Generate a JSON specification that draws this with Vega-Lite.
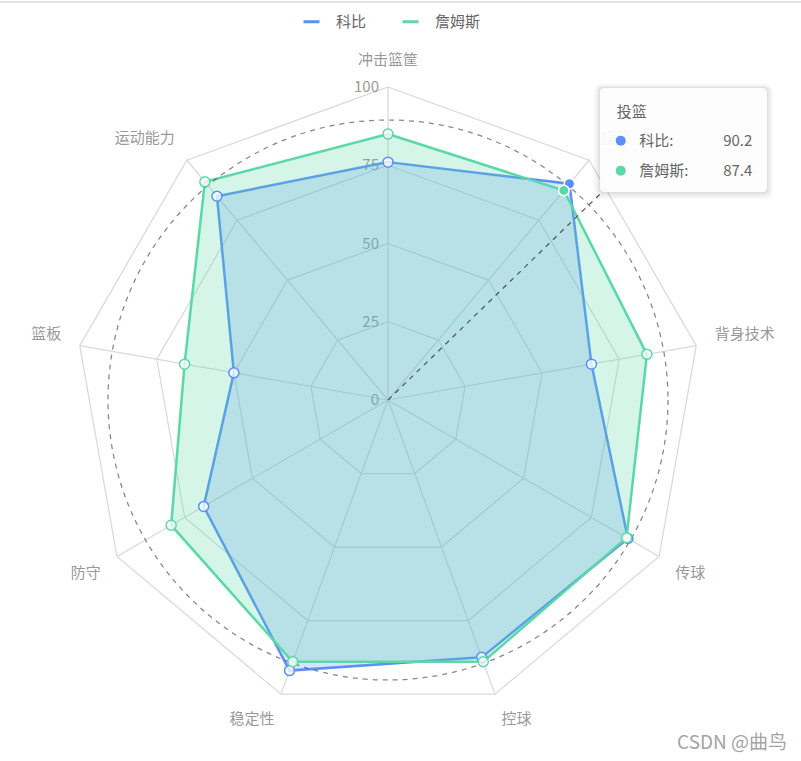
{
  "$schema": "https://vega.github.io/schema/vega-lite/v6.json",
  "width": 801,
  "height": 761,
  "autosize": "none",
  "padding": 0,
  "background": "white",
  "config": {"view": {"stroke": null}, "font": "Noto Sans CJK SC"},
  "datasets": {
    "axes": [
      {"axis": "冲击篮筐", "i": 0},
      {"axis": "投篮", "i": 1},
      {"axis": "背身技术", "i": 2},
      {"axis": "传球", "i": 3},
      {"axis": "控球", "i": 4},
      {"axis": "稳定性", "i": 5},
      {"axis": "防守", "i": 6},
      {"axis": "篮板", "i": 7},
      {"axis": "运动能力", "i": 8}
    ],
    "scores": [
      {"player": "科比", "axis": "冲击篮筐", "value": 76},
      {"player": "科比", "axis": "投篮", "value": 90.2},
      {"player": "科比", "axis": "背身技术", "value": 66},
      {"player": "科比", "axis": "传球", "value": 88.5},
      {"player": "科比", "axis": "控球", "value": 87.5},
      {"player": "科比", "axis": "稳定性", "value": 92},
      {"player": "科比", "axis": "防守", "value": 68},
      {"player": "科比", "axis": "篮板", "value": 50},
      {"player": "科比", "axis": "运动能力", "value": 85},
      {"player": "詹姆斯", "axis": "冲击篮筐", "value": 85},
      {"player": "詹姆斯", "axis": "投篮", "value": 87.4},
      {"player": "詹姆斯", "axis": "背身技术", "value": 84},
      {"player": "詹姆斯", "axis": "传球", "value": 88},
      {"player": "詹姆斯", "axis": "控球", "value": 89},
      {"player": "詹姆斯", "axis": "稳定性", "value": 89},
      {"player": "詹姆斯", "axis": "防守", "value": 80},
      {"player": "詹姆斯", "axis": "篮板", "value": 66},
      {"player": "詹姆斯", "axis": "运动能力", "value": 91}
    ],
    "rings": [
      {"level": 25, "axis": ["冲击篮筐", "投篮", "背身技术", "传球", "控球", "稳定性", "防守", "篮板", "运动能力"]},
      {"level": 50, "axis": ["冲击篮筐", "投篮", "背身技术", "传球", "控球", "稳定性", "防守", "篮板", "运动能力"]},
      {"level": 75, "axis": ["冲击篮筐", "投篮", "背身技术", "传球", "控球", "稳定性", "防守", "篮板", "运动能力"]},
      {"level": 100, "axis": ["冲击篮筐", "投篮", "背身技术", "传球", "控球", "稳定性", "防守", "篮板", "运动能力"]}
    ],
    "ticks": [
      {"tick": 0}, {"tick": 25}, {"tick": 50}, {"tick": 75}, {"tick": 100}
    ]
  },
  "layer": [
    {
      "data": {"values": [{}]},
      "mark": {"type": "rule", "color": "#dddddd", "strokeWidth": 1.5},
      "encoding": {
        "x": {"datum": -123.96, "type": "quantitative", "scale": {"domain": [-123.96, 131.95], "nice": false, "zero": false}, "axis": null},
        "x2": {"datum": 131.95},
        "y": {"datum": 127.2, "type": "quantitative", "scale": {"domain": [-115.34, 127.8], "nice": false, "zero": false}, "axis": null}
      }
    },
    {
      "data": {"name": "rings"},
      "transform": [
        {"flatten": ["axis"]},
        {"lookup": "axis", "from": {"data": {"name": "axes"}, "key": "axis", "fields": ["i"]}},
        {"calculate": "datum.level*sin(datum.i*2*PI/9)", "as": "x"},
        {"calculate": "datum.level*cos(datum.i*2*PI/9)", "as": "y"}
      ],
      "mark": {"type": "line", "interpolate": "linear-closed", "stroke": "#d9d9d9", "strokeWidth": 1.25},
      "encoding": {
        "x": {"field": "x", "type": "quantitative", "scale": {"domain": [-123.96, 131.95], "nice": false, "zero": false}, "axis": null},
        "y": {"field": "y", "type": "quantitative", "scale": {"domain": [-115.34, 127.8], "nice": false, "zero": false}, "axis": null},
        "detail": {"field": "level"},
        "order": {"field": "i"}
      }
    },
    {
      "data": {"name": "axes"},
      "transform": [
        {"calculate": "100*sin(datum.i*2*PI/9)", "as": "x"},
        {"calculate": "100*cos(datum.i*2*PI/9)", "as": "y"}
      ],
      "mark": {"type": "rule", "stroke": "#d9d9d9", "strokeWidth": 1.25},
      "encoding": {
        "x": {"field": "x", "type": "quantitative", "scale": {"domain": [-123.96, 131.95], "nice": false, "zero": false}, "axis": null},
        "y": {"field": "y", "type": "quantitative", "scale": {"domain": [-115.34, 127.8], "nice": false, "zero": false}, "axis": null},
        "x2": {"datum": 0},
        "y2": {"datum": 0}
      }
    },
    {
      "data": {"name": "ticks"},
      "mark": {"type": "text", "align": "right", "baseline": "middle", "dx": -9, "fontSize": 15, "color": "#999999"},
      "encoding": {
        "x": {"datum": 0, "type": "quantitative", "scale": {"domain": [-123.96, 131.95], "nice": false, "zero": false}, "axis": null},
        "y": {"field": "tick", "type": "quantitative", "scale": {"domain": [-115.34, 127.8], "nice": false, "zero": false}, "axis": null},
        "text": {"field": "tick"}
      }
    },
    {
      "data": {"name": "axes"},
      "transform": [
        {"filter": "datum.i === 0"},
        {"calculate": "106*sin(datum.i*2*PI/9)", "as": "x"},
        {"calculate": "106*cos(datum.i*2*PI/9)", "as": "y"}
      ],
      "mark": {"type": "text", "align": "center", "baseline": "bottom", "fontSize": 15, "color": "#999999"},
      "encoding": {
        "x": {"field": "x", "type": "quantitative", "scale": {"domain": [-123.96, 131.95], "nice": false, "zero": false}, "axis": null},
        "y": {"field": "y", "type": "quantitative", "scale": {"domain": [-115.34, 127.8], "nice": false, "zero": false}, "axis": null},
        "text": {"field": "axis"}
      }
    },
    {
      "data": {"name": "axes"},
      "transform": [
        {"filter": "datum.i === 1 || datum.i === 2"},
        {"calculate": "106*sin(datum.i*2*PI/9)", "as": "x"},
        {"calculate": "106*cos(datum.i*2*PI/9)", "as": "y"}
      ],
      "mark": {"type": "text", "align": "left", "baseline": "bottom", "fontSize": 15, "color": "#999999"},
      "encoding": {
        "x": {"field": "x", "type": "quantitative", "scale": {"domain": [-123.96, 131.95], "nice": false, "zero": false}, "axis": null},
        "y": {"field": "y", "type": "quantitative", "scale": {"domain": [-115.34, 127.8], "nice": false, "zero": false}, "axis": null},
        "text": {"field": "axis"}
      }
    },
    {
      "data": {"name": "axes"},
      "transform": [
        {"filter": "datum.i === 3 || datum.i === 4"},
        {"calculate": "106*sin(datum.i*2*PI/9)", "as": "x"},
        {"calculate": "106*cos(datum.i*2*PI/9)", "as": "y"}
      ],
      "mark": {"type": "text", "align": "left", "baseline": "top", "fontSize": 15, "color": "#999999"},
      "encoding": {
        "x": {"field": "x", "type": "quantitative", "scale": {"domain": [-123.96, 131.95], "nice": false, "zero": false}, "axis": null},
        "y": {"field": "y", "type": "quantitative", "scale": {"domain": [-115.34, 127.8], "nice": false, "zero": false}, "axis": null},
        "text": {"field": "axis"}
      }
    },
    {
      "data": {"name": "axes"},
      "transform": [
        {"filter": "datum.i === 5 || datum.i === 6"},
        {"calculate": "106*sin(datum.i*2*PI/9)", "as": "x"},
        {"calculate": "106*cos(datum.i*2*PI/9)", "as": "y"}
      ],
      "mark": {"type": "text", "align": "right", "baseline": "top", "fontSize": 15, "color": "#999999"},
      "encoding": {
        "x": {"field": "x", "type": "quantitative", "scale": {"domain": [-123.96, 131.95], "nice": false, "zero": false}, "axis": null},
        "y": {"field": "y", "type": "quantitative", "scale": {"domain": [-115.34, 127.8], "nice": false, "zero": false}, "axis": null},
        "text": {"field": "axis"}
      }
    },
    {
      "data": {"name": "axes"},
      "transform": [
        {"filter": "datum.i === 7 || datum.i === 8"},
        {"calculate": "106*sin(datum.i*2*PI/9)", "as": "x"},
        {"calculate": "106*cos(datum.i*2*PI/9)", "as": "y"}
      ],
      "mark": {"type": "text", "align": "right", "baseline": "bottom", "fontSize": 15, "color": "#999999"},
      "encoding": {
        "x": {"field": "x", "type": "quantitative", "scale": {"domain": [-123.96, 131.95], "nice": false, "zero": false}, "axis": null},
        "y": {"field": "y", "type": "quantitative", "scale": {"domain": [-115.34, 127.8], "nice": false, "zero": false}, "axis": null},
        "text": {"field": "axis"}
      }
    },
    {
      "data": {"name": "scores"},
      "transform": [
        {"filter": "datum.player === '科比'"},
        {"lookup": "axis", "from": {"data": {"name": "axes"}, "key": "axis", "fields": ["i"]}},
        {"calculate": "datum.value*sin(datum.i*2*PI/9)", "as": "x"},
        {"calculate": "datum.value*cos(datum.i*2*PI/9)", "as": "y"}
      ],
      "mark": {"type": "line", "interpolate": "linear-closed", "fill": "#5B8FF9", "fillOpacity": 0.24, "stroke": "#5B8FF9", "strokeWidth": 2.5},
      "encoding": {
        "x": {"field": "x", "type": "quantitative", "scale": {"domain": [-123.96, 131.95], "nice": false, "zero": false}, "axis": null},
        "y": {"field": "y", "type": "quantitative", "scale": {"domain": [-115.34, 127.8], "nice": false, "zero": false}, "axis": null},
        "order": {"field": "i"}
      }
    },
    {
      "data": {"name": "scores"},
      "transform": [
        {"filter": "datum.player === '詹姆斯'"},
        {"lookup": "axis", "from": {"data": {"name": "axes"}, "key": "axis", "fields": ["i"]}},
        {"calculate": "datum.value*sin(datum.i*2*PI/9)", "as": "x"},
        {"calculate": "datum.value*cos(datum.i*2*PI/9)", "as": "y"}
      ],
      "mark": {"type": "line", "interpolate": "linear-closed", "fill": "#5AD8A6", "fillOpacity": 0.26, "stroke": "#5AD8A6", "strokeWidth": 2.5},
      "encoding": {
        "x": {"field": "x", "type": "quantitative", "scale": {"domain": [-123.96, 131.95], "nice": false, "zero": false}, "axis": null},
        "y": {"field": "y", "type": "quantitative", "scale": {"domain": [-115.34, 127.8], "nice": false, "zero": false}, "axis": null},
        "order": {"field": "i"}
      }
    },
    {
      "data": {"values": [{}]},
      "mark": {"type": "point", "shape": "circle", "filled": false, "size": 313600, "stroke": "#555555", "strokeWidth": 1.25, "strokeDash": [5, 5]},
      "encoding": {
        "x": {"datum": 0, "type": "quantitative", "scale": {"domain": [-123.96, 131.95], "nice": false, "zero": false}, "axis": null},
        "y": {"datum": 0, "type": "quantitative", "scale": {"domain": [-115.34, 127.8], "nice": false, "zero": false}, "axis": null}
      }
    },
    {
      "data": {"values": [{}]},
      "mark": {"type": "rule", "stroke": "#555555", "strokeWidth": 1.25, "strokeDash": [5, 5]},
      "encoding": {
        "x": {"datum": 0, "type": "quantitative", "scale": {"domain": [-123.96, 131.95], "nice": false, "zero": false}, "axis": null},
        "y": {"datum": 0, "type": "quantitative", "scale": {"domain": [-115.34, 127.8], "nice": false, "zero": false}, "axis": null},
        "x2": {"datum": 69.6},
        "y2": {"datum": 67.6}
      }
    },
    {
      "data": {"name": "scores"},
      "transform": [
        {"filter": "datum.axis !== '投篮'"},
        {"lookup": "axis", "from": {"data": {"name": "axes"}, "key": "axis", "fields": ["i"]}},
        {"calculate": "datum.value*sin(datum.i*2*PI/9)", "as": "x"},
        {"calculate": "datum.value*cos(datum.i*2*PI/9)", "as": "y"}
      ],
      "mark": {"type": "point", "shape": "circle", "filled": false, "fill": "white", "fillOpacity": 0.75, "size": 100, "strokeWidth": 1.5, "opacity": 1},
      "encoding": {
        "x": {"field": "x", "type": "quantitative", "scale": {"domain": [-123.96, 131.95], "nice": false, "zero": false}, "axis": null},
        "y": {"field": "y", "type": "quantitative", "scale": {"domain": [-115.34, 127.8], "nice": false, "zero": false}, "axis": null},
        "stroke": {
          "field": "player", "type": "nominal",
          "scale": {"domain": ["科比", "詹姆斯"], "range": ["#5B8FF9", "#5AD8A6"]},
          "legend": {
            "orient": "none", "legendX": 302, "legendY": 12, "direction": "horizontal", "title": null,
            "symbolType": "stroke", "symbolSize": 256, "symbolStrokeWidth": 3,
            "labelFontSize": 15, "labelColor": "#666666", "labelFont": "Noto Sans CJK SC",
            "labelOffset": 15, "columnPadding": 29, "padding": 0
          }
        }
      }
    },
    {
      "data": {"name": "scores"},
      "transform": [
        {"filter": "datum.axis === '投篮'"},
        {"lookup": "axis", "from": {"data": {"name": "axes"}, "key": "axis", "fields": ["i"]}},
        {"calculate": "datum.value*sin(datum.i*2*PI/9)", "as": "x"},
        {"calculate": "datum.value*cos(datum.i*2*PI/9)", "as": "y"}
      ],
      "mark": {"type": "point", "shape": "circle", "filled": true, "size": 110, "stroke": "white", "strokeWidth": 1.5, "opacity": 1},
      "encoding": {
        "x": {"field": "x", "type": "quantitative", "scale": {"domain": [-123.96, 131.95], "nice": false, "zero": false}, "axis": null},
        "y": {"field": "y", "type": "quantitative", "scale": {"domain": [-115.34, 127.8], "nice": false, "zero": false}, "axis": null},
        "fill": {"field": "player", "type": "nominal", "scale": {"domain": ["科比", "詹姆斯"], "range": ["#5B8FF9", "#5AD8A6"]}, "legend": null}
      }
    },
    {
      "data": {"values": [{}]},
      "mark": {"type": "rect", "color": "black", "opacity": 0.03, "cornerRadius": 8},
      "encoding": {
        "x": {"datum": 65.8, "type": "quantitative", "scale": {"domain": [-123.96, 131.95], "nice": false, "zero": false}, "axis": null},
        "x2": {"datum": 123.0},
        "y": {"datum": 101.0, "type": "quantitative", "scale": {"domain": [-115.34, 127.8], "nice": false, "zero": false}, "axis": null},
        "y2": {"datum": 64.2}
      }
    },
    {
      "data": {"values": [{}]},
      "mark": {"type": "rect", "color": "black", "opacity": 0.04, "cornerRadius": 6},
      "encoding": {
        "x": {"datum": 66.6, "type": "quantitative", "scale": {"domain": [-123.96, 131.95], "nice": false, "zero": false}, "axis": null},
        "x2": {"datum": 122.2},
        "y": {"datum": 100.4, "type": "quantitative", "scale": {"domain": [-115.34, 127.8], "nice": false, "zero": false}, "axis": null},
        "y2": {"datum": 65.0}
      }
    },
    {
      "data": {"values": [{}]},
      "mark": {"type": "rect", "color": "black", "opacity": 0.05, "cornerRadius": 5},
      "encoding": {
        "x": {"datum": 67.2, "type": "quantitative", "scale": {"domain": [-123.96, 131.95], "nice": false, "zero": false}, "axis": null},
        "x2": {"datum": 121.6},
        "y": {"datum": 100.0, "type": "quantitative", "scale": {"domain": [-115.34, 127.8], "nice": false, "zero": false}, "axis": null},
        "y2": {"datum": 65.8}
      }
    },
    {
      "data": {"values": [{}]},
      "mark": {"type": "rect", "color": "white", "opacity": 0.93, "cornerRadius": 4},
      "encoding": {
        "x": {"datum": 67.73, "type": "quantitative", "scale": {"domain": [-123.96, 131.95], "nice": false, "zero": false}, "axis": null},
        "x2": {"datum": 121.09},
        "y": {"datum": 99.68, "type": "quantitative", "scale": {"domain": [-115.34, 127.8], "nice": false, "zero": false}, "axis": null},
        "y2": {"datum": 66.45}
      }
    },
    {
      "data": {"name": "axes"},
      "transform": [{"filter": "datum.i === 1"}],
      "mark": {"type": "text", "align": "left", "baseline": "middle", "fontSize": 15, "color": "#666666"},
      "encoding": {
        "x": {"datum": 73.07, "type": "quantitative", "scale": {"domain": [-123.96, 131.95], "nice": false, "zero": false}, "axis": null},
        "y": {"datum": 92.1, "type": "quantitative", "scale": {"domain": [-115.34, 127.8], "nice": false, "zero": false}, "axis": null},
        "text": {"field": "axis"}
      }
    },
    {
      "data": {"name": "scores"},
      "transform": [
        {"filter": "datum.axis === '投篮' && datum.player === '科比'"},
        {"calculate": "datum.player + ':'", "as": "name"}
      ],
      "layer": [
        {
          "mark": {"type": "point", "shape": "circle", "filled": true, "size": 100, "color": "#5B8FF9", "opacity": 1},
          "encoding": {
            "x": {"datum": 74.35, "type": "quantitative", "scale": {"domain": [-123.96, 131.95], "nice": false, "zero": false}, "axis": null},
            "y": {"datum": 82.84, "type": "quantitative", "scale": {"domain": [-115.34, 127.8], "nice": false, "zero": false}, "axis": null}
          }
        },
        {
          "mark": {"type": "text", "align": "left", "baseline": "middle", "fontSize": 15, "color": "#666666"},
          "encoding": {
            "x": {"datum": 80.3, "type": "quantitative", "scale": {"domain": [-123.96, 131.95], "nice": false, "zero": false}, "axis": null},
            "y": {"datum": 82.84, "type": "quantitative", "scale": {"domain": [-115.34, 127.8], "nice": false, "zero": false}, "axis": null},
            "text": {"field": "name"}
          }
        },
        {
          "mark": {"type": "text", "align": "right", "baseline": "middle", "fontSize": 15, "color": "#666666"},
          "encoding": {
            "x": {"datum": 116.39, "type": "quantitative", "scale": {"domain": [-123.96, 131.95], "nice": false, "zero": false}, "axis": null},
            "y": {"datum": 82.84, "type": "quantitative", "scale": {"domain": [-115.34, 127.8], "nice": false, "zero": false}, "axis": null},
            "text": {"field": "value", "format": ".1f"}
          }
        }
      ]
    },
    {
      "data": {"name": "scores"},
      "transform": [
        {"filter": "datum.axis === '投篮' && datum.player === '詹姆斯'"},
        {"calculate": "datum.player + ':'", "as": "name"}
      ],
      "layer": [
        {
          "mark": {"type": "point", "shape": "circle", "filled": true, "size": 100, "color": "#5AD8A6", "opacity": 1},
          "encoding": {
            "x": {"datum": 74.35, "type": "quantitative", "scale": {"domain": [-123.96, 131.95], "nice": false, "zero": false}, "axis": null},
            "y": {"datum": 73.26, "type": "quantitative", "scale": {"domain": [-115.34, 127.8], "nice": false, "zero": false}, "axis": null}
          }
        },
        {
          "mark": {"type": "text", "align": "left", "baseline": "middle", "fontSize": 15, "color": "#666666"},
          "encoding": {
            "x": {"datum": 80.3, "type": "quantitative", "scale": {"domain": [-123.96, 131.95], "nice": false, "zero": false}, "axis": null},
            "y": {"datum": 73.26, "type": "quantitative", "scale": {"domain": [-115.34, 127.8], "nice": false, "zero": false}, "axis": null},
            "text": {"field": "name"}
          }
        },
        {
          "mark": {"type": "text", "align": "right", "baseline": "middle", "fontSize": 15, "color": "#666666"},
          "encoding": {
            "x": {"datum": 116.39, "type": "quantitative", "scale": {"domain": [-123.96, 131.95], "nice": false, "zero": false}, "axis": null},
            "y": {"datum": 73.26, "type": "quantitative", "scale": {"domain": [-115.34, 127.8], "nice": false, "zero": false}, "axis": null},
            "text": {"field": "value", "format": ".1f"}
          }
        }
      ]
    },
    {
      "data": {"values": [{"note": "CSDN @曲鸟"}]},
      "mark": {"type": "text", "align": "right", "baseline": "middle", "fontSize": 19, "color": "#a3a3a3"},
      "encoding": {
        "x": {"datum": 127.5, "type": "quantitative", "scale": {"domain": [-123.96, 131.95], "nice": false, "zero": false}, "axis": null},
        "y": {"datum": -109.6, "type": "quantitative", "scale": {"domain": [-115.34, 127.8], "nice": false, "zero": false}, "axis": null},
        "text": {"field": "note"}
      }
    }
  ]
}
